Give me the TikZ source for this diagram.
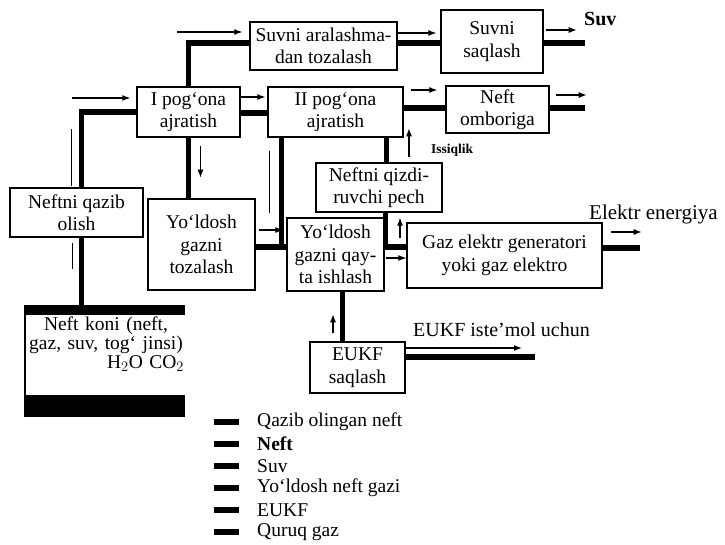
\documentclass[tikz,border=0pt]{standalone}
\usepackage{fontspec}
\setmainfont{Liberation Serif}
\usepackage{tikz}
\usetikzlibrary{calc}
\usetikzlibrary{arrows.meta}

\newcommand\boxfont{\fontsize{19.5}{22.5}\selectfont}

\begin{document}
\begin{tikzpicture}[x=1pt,y=-1pt,
box/.style={draw,line width=1.4pt,fill=white,align=center,inner sep=1pt,font=\boxfont},
flow/.style={line width=5.5pt},
thinline/.style={line width=1.1pt},
arr/.style={line width=1.1pt,-{Latex[length=8pt,width=6pt]}},
lbl/.style={anchor=west,inner sep=0pt,font=\boxfont}]
\useasboundingbox (0,0) rectangle (725,545);

%boxes
\node[box,minimum width=133pt,minimum height=49pt](qazib) at (76.5,212.5){Neftni qazib\\olish};
\node[box,minimum width=103pt,minimum height=50pt](pog1) at (188.5,112){I pog‘ona\\ajratish};
\node[box,minimum width=135pt,minimum height=50pt](pog2) at (335.5,112){II pog‘ona\\ajratish};
\node[box,minimum width=147pt,minimum height=48pt](suvtoz) at (323.5,46){Suvni aralashma-\\dan tozalash};
\node[box,minimum width=102pt,minimum height=63pt](suvsaq) at (492,41.5){Suvni\\saqlash};
\node[box,minimum width=103pt,minimum height=47pt](ombor) at (497.5,109.5){Neft\\omboriga};
\node[box,minimum width=126pt,minimum height=49pt](pech) at (379,187.5){Neftni qizdi-\\ruvchi pech};
\node[box,minimum width=107pt,minimum height=91pt](gaztoz) at (201.5,244.5){Yo‘ldosh\\gazni\\tozalash};
\node[box,minimum width=97pt,minimum height=73pt](qayta) at (335.5,254.5){Yo‘ldosh\\gazni qay-\\ta ishlash};
\node[box,minimum width=195pt,minimum height=65pt](gen) at (504.5,255.5){Gaz elektr generatori\\yoki gaz elektro};
\node[box,minimum width=95pt,minimum height=51pt](eukf) at (357.5,367.5){EUKF\\saqlash};

%oil field
\node[minimum width=160pt,minimum height=112pt,inner sep=0pt](koni) at (105,361){};
\fill (koni.north west) rectangle ($(koni.north east)+(0,10)$);
\fill ($(koni.south west)+(0,-22)$) rectangle (koni.south east);
\draw[line width=1.4pt] (koni.north west)--(koni.south west);
\node[font=\fontsize{19.5}{19}\selectfont,align=center,text width=156pt,inner sep=0pt,anchor=north](konitxt) at ($(koni.north)+(1,12)$){Neft koni (neft,\\gaz, suv, tog` jinsi)\\\mbox{}\hfill H$_2$O CO$_2$};

%free ends
\coordinate(suvend) at (585,43);
\coordinate(neftend) at (585,108);
\coordinate(elend) at (640,248);
\coordinate(eukfend) at (535,357);
\coordinate(eukfend2) at (522,348);

%thick flows
\draw[flow] ($(qazib.south west)+(72,0)$) coordinate(q1)--(q1 |- koni.north);
\draw[flow] ($(qazib.north west)+(72,0)$) |- (pog1.west);
\draw[flow] (pog1.north) |- ($(suvtoz.west)+(0,-3)$);
\draw[flow] ($(pog1.east)+(0,1)$) coordinate(p0)--(p0 -| pog2.west);
\draw[flow] (pog1.south)--(pog1.south |- gaztoz.north);
\draw[flow] ($(gaztoz.east)+(0,2.5)$) coordinate(g1)--(g1 -| qayta.west);
\draw[flow] ($(pog2.south west)+(14,0)$) |- (g1);
\draw[flow] ($(pog2.east)+(0,-4)$) coordinate(p1)--(p1 -| ombor.west);
\draw[flow] ($(suvtoz.east)+(0,-3)$) coordinate(s1)--(s1 -| suvsaq.west);
\draw[flow] (suvsaq.east |- suvend)--(suvend);
\draw[flow] (ombor.east |- neftend)--(neftend);
\draw[flow] ($(pog2.south west)+(119,0)$) coordinate(p2)--(p2 |- pech.north);
\draw[flow] ($(pech.south west)+(70,0)$) |- (gen.west |- g1);
\draw[flow] (qayta.east |- g1)--(gen.west |- g1);
\draw[flow] (gen.east |- elend)--(elend);
\draw[flow] ($(qayta.south west)+(56,0)$) coordinate(y1)--(y1 |- eukf.north);
\draw[flow] (eukf.east |- eukfend)--(eukfend);

%thin arrows
\draw[arr] ($(pog1.west)+(-64,-14)$)--($(pog1.west)+(-6,-14)$);
\draw[arr] ($(suvtoz.west)+(-72,-14)$)--($(suvtoz.west)+(-7,-14)$);
\draw[arr] ($(pog1.east)+(0,-15)$)--($(pog2.west)+(-2,-15)$);
\draw[arr] ($(pog1.south)+(12,8)$)--($(pog1.south)+(12,40)$);
\draw[arr] ($(gaztoz.east)+(3,-14.5)$)--($(qayta.west)+(-3,-24.5)$);
\draw[arr] ($(pog2.east)+(7,-22)$)--($(ombor.west)+(-8,-19.5)$);
\draw[arr] ($(suvtoz.east)+(0,-13)$)--($(suvsaq.west)+(-4,-8.5)$);
\draw[arr] ($(suvsaq.east)+(2,-11.5)$)--($(suvsaq.east)+(33,-11.5)$);
\draw[arr] ($(ombor.east)+(6,-14.5)$)--($(ombor.east)+(37,-14.5)$);
\draw[arr] ($(pech.north)+(30,-5)$)--($(pech.north)+(30,-34)$);
\draw[arr] ($(pech.south)+(21,25)$)--($(pech.south)+(21,5)$);
\draw[arr] ($(qayta.east)+(1,3.5)$)--($(gen.west)+(0,2.5)$);
\draw[arr] ($(gen.east)+(8,-23.5)$)--($(gen.east)+(39,-23.5)$);
\draw[arr] ($(eukf.north)+(-24.5,-8)$)--($(eukf.north)+(-24.5,-27)$);
\draw[arr] (eukf.east |- eukfend2)--(eukfend2);

%thin lines
\draw[thinline] ($(qazib.north west)+(62,-58)$)--($(qazib.north west)+(62,-1)$);
\draw[thinline] ($(qazib.south west)+(63,5)$)--($(qazib.south west)+(63,31)$);
\draw[thinline] ($(pog2.south west)+(2,13)$)--($(pog2.south west)+(2,75)$);

%labels
\node[lbl,font=\fontsize{20}{22}\selectfont\bfseries](suvlbl) at (584,19){Suv};
\node[lbl,font=\fontsize{21}{24}\selectfont](ellbl) at (589,214){Elektr energiya};
\node[lbl,font=\fontsize{20}{22}\selectfont](eukflbl) at (413,330){EUKF iste’mol uchun};
\node[lbl,font=\fontsize{13.5}{15}\selectfont\bfseries](issiq) at (431,150){Issiqlik};

%legend
\node[lbl](leg1) at (257,422){Qazib olingan neft};
\node[lbl,font=\boxfont\bfseries](leg2) at (257,444){Neft};
\node[lbl](leg3) at (257,466){Suv};
\node[lbl](leg4) at (257,488){Yo‘ldosh neft gazi};
\node[lbl](leg5) at (257,510){EUKF};
\node[lbl](leg6) at (257,532){Quruq gaz};
\draw[flow] ($(leg1.west)+(-43,0)$)--($(leg1.west)+(-18,0)$);
\draw[flow] ($(leg2.west)+(-43,0)$)--($(leg2.west)+(-18,0)$);
\draw[flow] ($(leg3.west)+(-43,0)$)--($(leg3.west)+(-18,0)$);
\draw[flow] ($(leg4.west)+(-43,0)$)--($(leg4.west)+(-18,0)$);
\draw[flow] ($(leg5.west)+(-43,0)$)--($(leg5.west)+(-18,0)$);
\draw[flow] ($(leg6.west)+(-43,0)$)--($(leg6.west)+(-18,0)$);
\end{tikzpicture}
\end{document}
